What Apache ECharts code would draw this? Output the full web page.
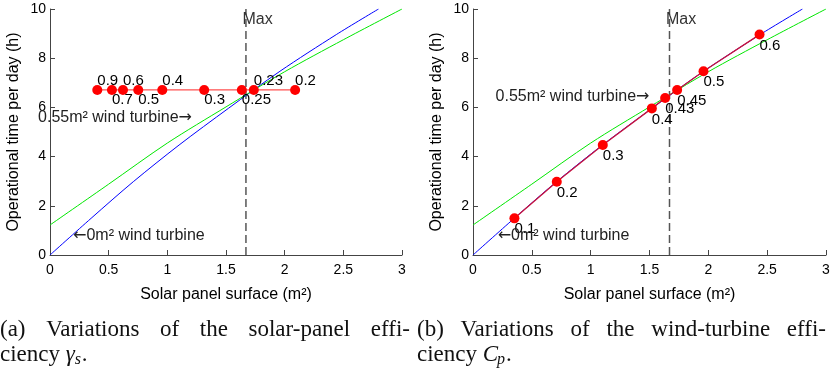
<!DOCTYPE html>
<html>
<head>
<meta charset="utf-8">
<script src="https://cdn.jsdelivr.net/npm/echarts@6/dist/echarts.min.js"></script>
<style>
html, body { margin: 0; padding: 0; background: #fff; }
#chart { width: 833px; height: 381px; }
</style>
</head>
<body>
<div id="chart"></div>
<script>
// axis ticks
var xTicks = [0, 0.5, 1, 1.5, 2, 2.5, 3]
var yTicks = [0, 2, 4, 6, 8, 10]

// 0 m2 wind turbine (blue curve)
var noWindX = [0, 0.35, 0.71, 1.1, 1.52, 1.96, 2.44, 2.8]
var noWindY = [0, 1.49, 2.98, 4.47, 5.96, 7.47, 8.96, 10]

// 0.55 m2 wind turbine (green curve)
var windX = [0, 0.5, 1, 1.5, 2, 2.5, 3]
var windY = [1.22, 2.88, 4.55, 6.02, 7.45, 8.75, 10]

// (a) solar panel efficiency
var solarEffX = [0.403, 0.528, 0.622, 0.752, 0.957, 1.314, 1.635, 1.737, 2.089]
var solarEffY = [6.71, 6.71, 6.71, 6.71, 6.71, 6.71, 6.71, 6.71, 6.71]
var solarEffLabels = ['0.9', '0.7', '0.6', '0.5', '0.4', '0.3', '0.25', '0.23', '0.2']

// (b) wind turbine efficiency
var windEffX = [0.352, 0.712, 1.103, 1.52, 1.633, 1.735, 1.959, 2.435]
var windEffY = [1.49, 2.98, 4.47, 5.96, 6.38, 6.71, 7.47, 8.96]
var windEffLabels = ['0.1', '0.2', '0.3', '0.4', '0.43', '0.45', '0.5', '0.6']

var maxSurface = 1.67

var SANS = "'Liberation Sans', Arial, Helvetica, sans-serif"
var SERIF = "'Liberation Serif', 'Times New Roman', serif"

function zip(xs, ys) {
  return xs.map(function(x, i) { return [x, ys[i]] })
}

// label above (true) or below (false) the marker, panel (a)
var aboveA = [true, false, true, false, true, false, false, true, true]

function xAxisCfg(i) {
  return {
    gridIndex: i,
    type: 'value',
    min: xTicks[0],
    max: xTicks[xTicks.length - 1],
    interval: xTicks[1] - xTicks[0],
    axisLine: { show: true, onZero: false, lineStyle: { color: '#444', width: 1 } },
    axisTick: { show: true, inside: true, length: 5, lineStyle: { color: '#444' } },
    axisLabel: { color: '#000', fontSize: 14, fontFamily: SANS, margin: 8, showMinLabel: true, showMaxLabel: true },
    splitLine: { show: false },
    name: 'Solar panel surface (m²)',
    nameLocation: 'middle',
    nameGap: 32,
    nameTextStyle: { color: '#000', fontSize: 16, fontFamily: SANS }
  }
}

function yAxisCfg(i) {
  return {
    gridIndex: i,
    type: 'value',
    min: yTicks[0],
    max: yTicks[yTicks.length - 1],
    interval: yTicks[1] - yTicks[0],
    axisLine: { show: true, onZero: false, lineStyle: { color: '#444', width: 1 } },
    axisTick: { show: true, inside: true, length: 5, lineStyle: { color: '#444' } },
    axisLabel: { color: '#000', fontSize: 14, fontFamily: SANS, margin: 4, showMinLabel: true, showMaxLabel: true },
    splitLine: { show: false },
    name: 'Operational time per day (h)',
    nameLocation: 'middle',
    nameGap: 28,
    nameTextStyle: { color: '#000', fontSize: 16, fontFamily: SANS }
  }
}

function curves(i) {
  return [
    {
      type: 'line', xAxisIndex: i, yAxisIndex: i,
      data: zip(noWindX, noWindY),
      smooth: 0.3, symbol: 'none',
      lineStyle: { color: '#0000ff', width: 1 }, z: 2
    },
    {
      type: 'line', xAxisIndex: i, yAxisIndex: i,
      data: zip(windX, windY),
      smooth: 0.3, symbol: 'none',
      lineStyle: { color: '#00e600', width: 1 }, z: 2
    },
    {
      type: 'line', xAxisIndex: i, yAxisIndex: i,
      data: [[maxSurface, yTicks[0]], [maxSurface, yTicks[yTicks.length - 1]]],
      symbol: 'none',
      lineStyle: { color: '#555', width: 1.5, type: [8, 4] }, z: 1
    }
  ]
}

var dataA = solarEffX.map(function(x, i) {
  return {
    value: [x, solarEffY[i]],
    label: {
      show: true,
      formatter: solarEffLabels[i],
      position: aboveA[i] ? [5, -4] : [5, 15]
    }
  }
})

var dataB = windEffX.map(function(x, i) {
  return {
    value: [x, windEffY[i]],
    label: { show: true, formatter: windEffLabels[i], position: [5, 16] }
  }
})

var labelStyle = { align: 'left', verticalAlign: 'middle', color: '#000', fontSize: 15, fontFamily: SANS }

var chart = echarts.init(document.getElementById('chart'), null, { renderer: 'canvas' })
chart.setOption({
  animation: false,
  grid: [
    { left: 50, top: 9, width: 352, height: 246 },
    { left: 473, top: 9, width: 353, height: 246 }
  ],
  xAxis: [xAxisCfg(0), xAxisCfg(1)],
  yAxis: [yAxisCfg(0), yAxisCfg(1)],
  series: curves(0).concat(curves(1)).concat([
    {
      type: 'line', xAxisIndex: 0, yAxisIndex: 0,
      data: dataA,
      symbol: 'circle', symbolSize: 10, showSymbol: true,
      lineStyle: { color: '#ff5050', width: 1.2 },
      itemStyle: { color: '#ff0000' },
      label: labelStyle, z: 5
    },
    {
      type: 'line', xAxisIndex: 1, yAxisIndex: 1,
      data: dataB,
      symbol: 'circle', symbolSize: 10, showSymbol: true,
      lineStyle: { color: '#c8143c', width: 1.3 },
      itemStyle: { color: '#ff0000' },
      label: labelStyle, z: 5
    }
  ])
})

// annotations anchored in data coordinates
function px(g, pt) {
  return chart.convertToPixel({ gridIndex: g }, pt)
}
var arrowRich = { ar: { fontFamily: 'DejaVu Sans', fontSize: 16, fill: '#222', color: '#222' } }
function note(g, pt, text, align, color) {
  var p = px(g, pt)
  return {
    type: 'text', x: p[0], y: p[1], z: 10,
    style: {
      text: text, fill: color || '#222', font: '16px ' + SANS,
      align: align, verticalAlign: 'middle', rich: arrowRich
    }
  }
}

// caption words, first line justified between x0 and x1
var ctx = document.createElement('canvas').getContext('2d')
var capSize = 23
function word(x, y, text, size, italic) {
  return {
    type: 'text', x: x, y: y, z: 10,
    style: {
      text: text, fill: '#111',
      font: (italic ? 'italic ' : '') + size + 'px ' + SERIF,
      align: 'left', verticalAlign: 'middle'
    }
  }
}
function justified(words, x0, x1, y) {
  ctx.font = capSize + 'px ' + SERIF
  var widths = words.map(function(w) { return ctx.measureText(w).width })
  var total = widths.reduce(function(a, b) { return a + b }, 0)
  var gap = (x1 - x0 - total) / (words.length - 1)
  var x = x0
  return words.map(function(w, i) {
    var el = word(x, y, w, capSize)
    x += widths[i] + gap
    return el
  })
}
function measure(t, italic) {
  ctx.font = (italic ? 'italic ' : '') + capSize + 'px ' + SERIF
  return ctx.measureText(t).width
}

var line2a = 0 + measure('ciency ')
var line2b = 417 + measure('ciency ')

var graphics = [
  note(0, [maxSurface - 0.03, 9.55], 'Max', 'left', '#333'),
  note(1, [maxSurface - 0.03, 9.55], 'Max', 'left', '#333'),
  note(0, [1.21, 5.57], '0.55m² wind turbine{ar|→}', 'right'),
  note(0, [0.196, 0.77], '{ar|←}0m² wind turbine', 'left'),
  note(1, [1.5, 6.43], '0.55m² wind turbine{ar|→}', 'right'),
  note(1, [0.21, 0.77], '{ar|←}0m² wind turbine', 'left')
]
  .concat(justified(['(a)', 'Variations', 'of', 'the', 'solar-panel', 'effi-'], 0, 410, 330))
  .concat([
    word(0, 355, 'ciency', capSize),
    word(line2a, 355, 'γ', capSize, true),
    word(line2a + measure('γ', true), 360, 's', 16, true),
    word(line2a + measure('γ', true) + 7, 355, '.', capSize)
  ])
  .concat(justified(['(b)', 'Variations', 'of', 'the', 'wind-turbine', 'effi-'], 417, 826, 330))
  .concat([
    word(417, 355, 'ciency', capSize),
    word(line2b, 355, 'C', capSize, true),
    word(line2b + measure('C', true) - 1, 360, 'p', 16, true),
    word(line2b + measure('C', true) + 8, 355, '.', capSize)
  ])
chart.setOption({ graphic: graphics })
</script>
</body>
</html>
